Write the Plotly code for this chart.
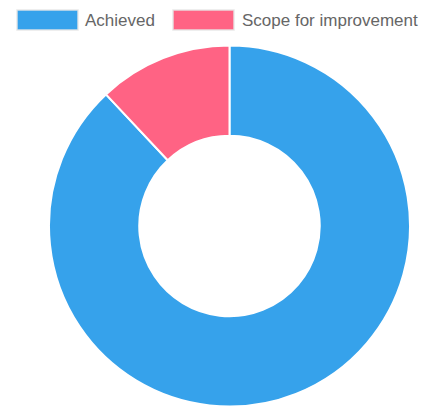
import plotly.graph_objects as go

labels = ["Achieved", "Scope for improvement"]
values = [88, 12]
colors = ["rgb(54,162,235)", "rgb(255,99,132)"]

# page size and default body margin of the html page
PW, PH = 428, 407
M = 8
W, H = PW - M, PH - M


def px(x):
    return (x - M) / W


def py(y):
    return 1 - (y - M) / H


fig = go.Figure()
fig.add_trace(go.Pie(
    labels=labels, values=values, hole=0.5, sort=False, direction="clockwise",
    rotation=0, textinfo="none", hoverinfo="label+value",
    marker=dict(colors=colors, line=dict(color="white", width=2)),
    domain=dict(x=[px(49), px(410)], y=[py(407), py(45)]),
    showlegend=False,
))

# custom Chart.js-style legend
box_x = [17, 173]
text_x = [83, 240]
shapes = []
annotations = []
for i, lab in enumerate(labels):
    x0 = box_x[i]
    shapes.append(dict(type="rect", xref="paper", yref="paper",
                       x0=px(x0), x1=px(x0 + 61), y0=py(30), y1=py(10),
                       fillcolor=colors[i], line=dict(color="rgba(230,230,230,0.9)", width=1.5)))
    annotations.append(dict(text=lab, xref="paper", yref="paper", x=px(text_x[i]), y=py(20),
                            xanchor="left", yanchor="middle", showarrow=False,
                            font=dict(family="Liberation Sans, Arial, sans-serif", size=17, color="#666")))

fig.update_layout(width=W, height=H, margin=dict(l=0, r=0, t=0, b=0),
                  paper_bgcolor="white", plot_bgcolor="white",
                  shapes=shapes, annotations=annotations)
fig.write_html("out.html")
